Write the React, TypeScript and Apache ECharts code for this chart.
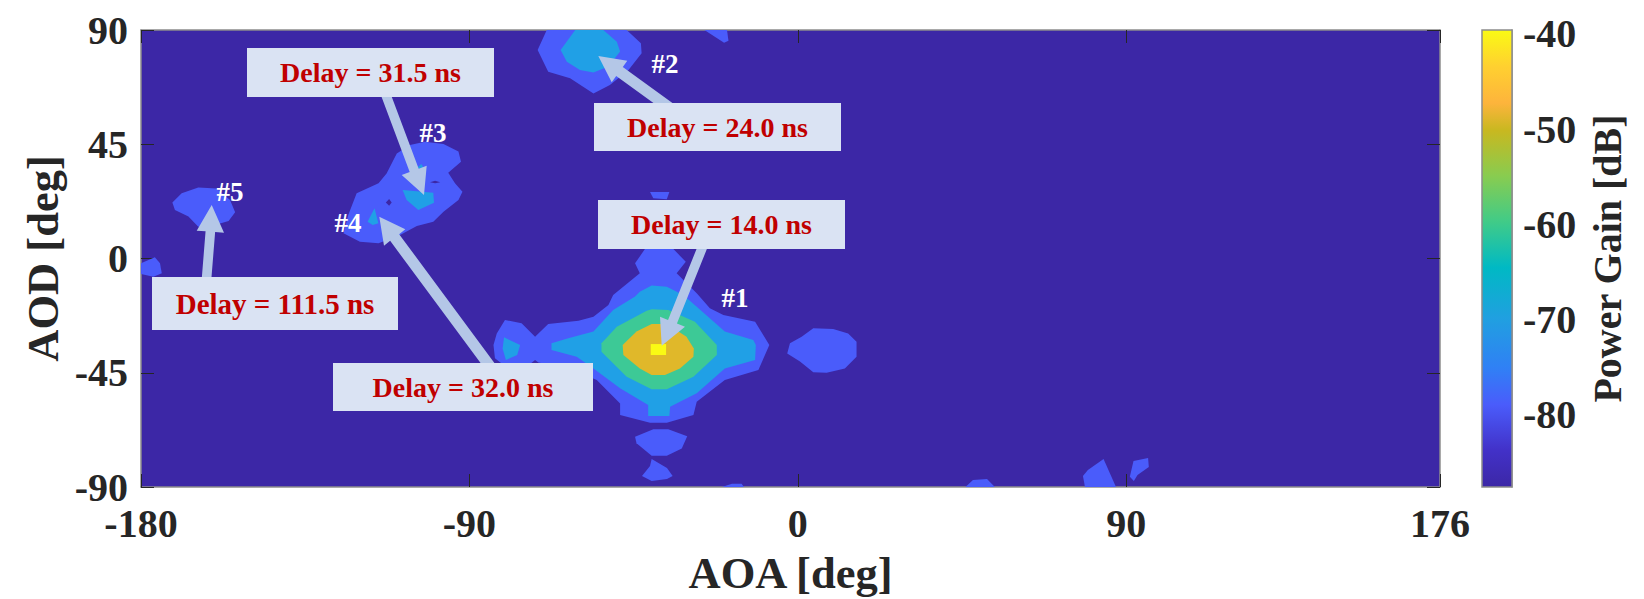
import React, { useEffect, useRef } from "react";
import * as echarts from "echarts";

// ---------- axis ranges / ticks ----------
const aoaRange = [-180, 176];
const aodRange = [-90, 90];
const aoaTicks = [-180, -90, 0, 90, 176];
const aodTicks = [-90, -45, 0, 45, 90];
const gainRange = [-87.6, -39.6];
const gainTicks = [-80, -70, -60, -50, -40];

// ---------- filled contours: [AOA deg, AOD deg] outlines, by level ----------
const bandBelow80 = [
  [[-41.9,3.7],[-34.1,3.7],[-30.7,-1.25],[-33.2,-5.84],[-27.7,-13.7],[-24.1,-19.6],[-20.4,-22.3],[-11.7,-24.9],[-7.8,-34.1],[-10.8,-43.9],[-20,-47.9],[-27.7,-56.4],[-28.6,-61.6],[-35.9,-64.7],[-40.5,-64.7],[-48.7,-61.6],[-48.7,-57.1],[-55.1,-47.9],[-62.4,-43.3],[-71.1,-41],[-72,-40],[-74.3,-42.6],[-78.9,-43.9],[-83,-39.3],[-83.4,-34.1],[-82.5,-29.5],[-80.25,-24.2],[-75.7,-25.5],[-72,-30.8],[-68.4,-25.8],[-60.1,-24.5],[-56,-22.9],[-51.9,-18.3],[-50.6,-14.4],[-43.3,-5.84],[-44.6,-1.9]],
  [[-40.5,26.2],[-35.2,26.2],[-35.9,23.3],[-39.6,23.7]],
  [[4.25,-27.5],[9.7,-27.8],[13.8,-29.5],[16.1,-32.8],[16.1,-38.7],[12.9,-43.3],[7.9,-45],[4.25,-44.8],[0.6,-40.6],[-2.9,-37.4],[-2.15,-33.4],[1.05,-30.8]],
  [[-44.6,-70.2],[-39.6,-67.3],[-35.5,-67.3],[-30.3,-70],[-31.8,-74.8],[-35.9,-77.7],[-40.05,-77.7],[-44.2,-72.8]],
  [[-40.05,-79],[-35.85,-82.5],[-34.3,-85.7],[-35.85,-86.8],[-40.05,-87.6],[-42.7,-85.7],[-40.5,-81.7]],
  [[-20.8,-90],[-18.05,-88.7],[-15.4,-88.7],[-14.75,-90]],
  [[45.95,-90],[48,-87.2],[51.85,-86.8],[54,-90]],
  [[78.15,-85.7],[79.5,-83.3],[83.8,-79],[87.2,-90],[78.7,-90]],
  [[92,-79.75],[96,-78.6],[96.2,-82.1],[93.1,-85.3],[92.1,-87.6],[91,-86]],
  [[-171.4,22.1],[-168.85,25.7],[-164.3,28],[-159.3,27.6],[-155.6,23],[-154.2,18.2],[-156,14.8],[-158.8,13.6],[-164.3,12.5],[-167,16.5],[-170.7,19.1]],
  [[-180,-1.9],[-176.2,0.45],[-174.8,-1.9],[-174.3,-5.85],[-176.6,-7.2],[-180,-6.1]],
  [[-109.9,41.4],[-106.3,44.7],[-102.2,46],[-97.1,45.1],[-93,42.1],[-92.3,38.1],[-95.8,33.8],[-93.95,29.6],[-91.9,26.3],[-93,23],[-97.1,18.4],[-99.9,14.5],[-104.4,12.8],[-109,9.25],[-114.9,6],[-120,6.6],[-124.5,9.9],[-123.2,17.1],[-120.9,25.7],[-114.9,29.6],[-112.7,33.5]],
  [[-68.8,90],[-46.9,90],[-43,84.75],[-42.8,80.8],[-46.4,74.25],[-51.5,68.3],[-56,65],[-62.4,71],[-68.4,73.6],[-71.3,82.1]],
  [[-25.6,90],[-19.4,90],[-19,85.8],[-20.2,85]],
];
const holes = [
  [[-112,23.4],[-111.3,22.1],[-112,20.8],[-112.9,22.1]],
  [[-100.8,30],[-99.4,30.65],[-98,30],[-99.4,29.6]],
];
const bandBelow70 = [
  [[-40.05,-10.6],[-35.9,-11.1],[-31.4,-14.4],[-27.7,-19],[-20,-28.8],[-12.2,-32.1],[-11.5,-34.1],[-11.7,-40],[-20,-43.3],[-27.7,-53.1],[-35,-58.4],[-35.2,-62],[-41,-62],[-41,-57.7],[-48.7,-51.1],[-56,-43.3],[-60.6,-38.7],[-67.5,-36],[-67.5,-33.4],[-62.9,-31.4],[-56,-28.8],[-50.6,-20.3],[-44.6,-15],[-43.3,-13.1]],
  [[-80.5,-31.05],[-76.1,-34.1],[-76.9,-38],[-80,-40],[-80.9,-35.4]],
  [[-108.3,27],[-99.9,25.9],[-99.7,22],[-104,19.1],[-107.2,23]],
  [[-116,19.75],[-114.95,13.85],[-116.5,13.2],[-117.9,14.5]],
  [[-104.4,35.5],[-103.2,37.2],[-102.4,35.5]],
  [[-61,90],[-53.3,90],[-49.6,85.4],[-48.7,81.5],[-51.9,75.6],[-56,73.3],[-59.7,74.2],[-63.3,77.5],[-65,82.1]],
];
const bandBelow60 = [
  [[-40.05,-20],[-35.5,-20.3],[-28.2,-24.9],[-22.2,-34.1],[-22.2,-38],[-28.6,-46.6],[-35.9,-51.5],[-40.05,-51.5],[-46.9,-46.6],[-53.8,-36.7],[-53.8,-33.4],[-49.6,-26.9],[-41.4,-20.6]],
];
const bandBelow50 = [
  [[-40.05,-25.8],[-35.9,-25.8],[-30.5,-30.8],[-28.5,-35.4],[-28.6,-38.7],[-32.3,-43.3],[-36.4,-45.9],[-40.05,-45.9],[-43.3,-43.3],[-47.8,-38],[-48,-34.1],[-44.2,-28.8]],
];
const bandPeak = [
  [[-40.3,-33.7],[-36.1,-33.7],[-36.1,-38],[-40.3,-38]],
];

// ---------- annotations ----------
const delayTexts = ["Delay = 14.0 ns", "Delay = 24.0 ns", "Delay = 31.5 ns", "Delay = 32.0 ns", "Delay = 111.5 ns"];
const pathTags = ["#1", "#2", "#3", "#4", "#5"];

// ---------- layout (pixels) ----------
const W = 1644, H = 599;
const G = { left: 141, top: 30, width: 1299, height: 457 };
const CB = { left: 1482, top: 30, width: 30, height: 457 };
const FONT = "'Liberation Serif', 'Times New Roman', serif";
const INK = "#262626";
const BOX_FRAME = "#8c8c8c";

const boxes = [
  [598, 200, 247, 49],
  [594, 103, 247, 48],
  [247, 48, 247, 49],
  [333, 363, 260, 48],
  [152, 277, 246, 53],
];
const boxFontSizes = [28, 28, 28, 28, 29];
const tagXY = [[735, 298], [665, 64], [433, 133], [348, 223], [230, 192]];
// tail, tip, head corner 1, head corner 2
const arrows = [
  [[701.7, 249], [661.7, 345.7], [660, 316.7], [685, 326.7]],
  [[663, 103], [598.3, 56], [627.3, 60.7], [611.7, 82.3]],
  [[386.7, 97], [424, 195], [401.7, 175], [426.7, 165.7]],
  [[487.5, 363], [379.3, 216.7], [384, 245.7], [405.3, 229.3]],
  [[206.7, 277], [211.7, 205], [196.7, 230.7], [224, 232.7]],
];
const arrowHalfWidths = [4.8, 5.6, 4.8, 5.6, 4.8];

function arrowPoints(a: number[][], hw: number) {
  const [t, tip, c1, c2] = a;
  const mx = (c1[0] + c2[0]) / 2, my = (c1[1] + c2[1]) / 2;
  const dx = mx - t[0], dy = my - t[1];
  const len = Math.hypot(dx, dy);
  const nx = -dy / len * hw, ny = dx / len * hw;
  // the tail runs on under its label box
  const tx = t[0] - dx / len * 14, ty = t[1] - dy / len * 14;
  const side = (c1[0] - mx) * nx + (c1[1] - my) * ny;
  const [s1, s2] = side > 0 ? [c1, c2] : [c2, c1];
  return [
    [tx + nx, ty + ny], [mx + nx, my + ny], s1, tip, s2,
    [mx - nx, my - ny], [tx - nx, ty - ny],
  ];
}

function contourSeries(polys: number[][][], color: string, z: number) {
  return {
    type: "custom",
    coordinateSystem: "cartesian2d",
    xAxisIndex: 0,
    yAxisIndex: 0,
    z,
    silent: true,
    data: polys.map((p) => [p[0][0], p[0][1]]),
    renderItem: (params: any, api: any) => ({
      type: "polygon",
      shape: { points: polys[params.dataIndex].map((p) => api.coord(p)) },
      style: { fill: color, stroke: null },
    }),
  };
}

export default function App() {
  const ref = useRef<HTMLDivElement>(null);
  useEffect(() => {
    document.body.style.margin = "0";
    const chart = echarts.init(ref.current!, undefined, { renderer: "svg" });
    const label = { color: INK, fontFamily: FONT, fontWeight: "bold", fontSize: 40 };
    const nameStyle = { color: INK, fontFamily: FONT, fontWeight: "bold", fontSize: 44.5 };
    const mirrored = {
      axisLine: { show: true, onZero: false, lineStyle: { color: BOX_FRAME, width: 1.5 } },
      splitLine: { show: false },
    };
    const graphics: any[] = [];
    arrows.forEach((a, i) => {
      graphics.push({
        type: "polygon", z: 50,
        shape: { points: arrowPoints(a, arrowHalfWidths[i]) },
        style: { fill: "#B4C7E7" },
      });
    });
    boxes.forEach((b, i) => {
      graphics.push({
        type: "rect", z: 51,
        shape: { x: b[0], y: b[1], width: b[2], height: b[3] },
        style: { fill: "#DAE3F3" },
      });
      graphics.push({
        type: "text", z: 52,
        x: b[0] + b[2] / 2, y: b[1] + b[3] / 2,
        style: {
          text: delayTexts[i], fill: "#C00000", font: `bold ${boxFontSizes[i]}px ${FONT}`,
          textAlign: "center", textVerticalAlign: "middle",
        },
      });
    });
    tagXY.forEach((p, i) => {
      graphics.push({
        type: "text", z: 52, x: p[0], y: p[1],
        style: {
          text: pathTags[i], fill: "#FFFFFF", font: `bold 27px ${FONT}`,
          textAlign: "center", textVerticalAlign: "middle",
        },
      });
    });

    chart.setOption({
      animation: false,
      backgroundColor: "#FFFFFF",
      grid: [
        { ...G, show: true, backgroundColor: "#3C27A6", borderWidth: 0, containLabel: false, outerBoundsMode: "none" },
        { ...CB, show: false, containLabel: false, outerBoundsMode: "none" },
      ],
      xAxis: [
        {
          type: "value", gridIndex: 0, position: "bottom", min: aoaRange[0], max: aoaRange[1],
          name: "AOA [deg]", nameLocation: "middle", nameGap: 63, nameTextStyle: nameStyle,
          ...mirrored,
          axisTick: { show: true, inside: true, length: 13, customValues: aoaTicks, lineStyle: { color: INK, width: 1 } },
          axisLabel: { ...label, margin: 16, customValues: aoaTicks },
        },
        {
          type: "value", gridIndex: 0, position: "top", min: aoaRange[0], max: aoaRange[1],
          ...mirrored,
          axisTick: { show: true, inside: true, length: 13, customValues: aoaTicks, lineStyle: { color: INK, width: 1 } },
          axisLabel: { show: false },
        },
        {
          type: "value", gridIndex: 1, min: 0, max: 1, show: false,
        },
      ],
      yAxis: [
        {
          type: "value", gridIndex: 0, position: "left", min: aodRange[0], max: aodRange[1],
          name: "AOD [deg]", nameLocation: "middle", nameMoveOverlap: false, nameGap: 76, nameRotate: 90, nameTextStyle: nameStyle,
          ...mirrored,
          axisTick: { show: true, inside: true, length: 13, customValues: aodTicks, lineStyle: { color: INK, width: 1 } },
          axisLabel: { ...label, margin: 13, customValues: aodTicks },
        },
        {
          type: "value", gridIndex: 0, position: "right", min: aodRange[0], max: aodRange[1],
          ...mirrored,
          axisTick: { show: true, inside: true, length: 13, customValues: aodTicks, lineStyle: { color: INK, width: 1 } },
          axisLabel: { show: false },
        },
        {
          type: "value", gridIndex: 1, position: "right", min: gainRange[0], max: gainRange[1],
          name: "Power Gain [dB]", nameLocation: "middle", nameGap: 75, nameRotate: 90,
          nameTextStyle: { ...nameStyle, fontSize: 40 },
          splitLine: { show: false },
          axisLine: { show: true, onZero: false, lineStyle: { color: BOX_FRAME, width: 1.5 } },
          axisTick: { show: true, inside: true, length: 5, customValues: gainTicks, lineStyle: { color: "#333333", width: 1 } },
          axisLabel: { ...label, margin: 11, customValues: gainTicks },
        },
      ],
      series: [
        contourSeries(bandBelow80, "#4A5CFB", 2),
        contourSeries(holes, "#3C27A6", 3),
        contourSeries(bandBelow70, "#20A0E6", 4),
        contourSeries(bandBelow60, "#3DC996", 5),
        contourSeries(bandBelow50, "#E0B82A", 6),
        contourSeries(bandPeak, "#FAFA14", 7),
        {
          type: "custom",
          coordinateSystem: "cartesian2d",
          xAxisIndex: 2,
          yAxisIndex: 2,
          silent: true,
          z: 1,
          data: [[0, gainRange[0]]],
          renderItem: (_p: any, api: any) => {
            const a = api.coord([0, gainRange[1]]);
            const b = api.coord([1, gainRange[0]]);
            return {
              type: "rect",
              shape: { x: a[0], y: a[1], width: b[0] - a[0], height: b[1] - a[1] },
              style: {
                stroke: BOX_FRAME,
                lineWidth: 1.5,
                fill: new echarts.graphic.LinearGradient(0, 0, 0, 1, [
                  { offset: 0, color: "#FAFA14" },
                  { offset: 0.08, color: "#FFD030" },
                  { offset: 0.16, color: "#FDB43C" },
                  { offset: 0.22, color: "#C8B820" },
                  { offset: 0.32, color: "#88CC50" },
                  { offset: 0.42, color: "#40CB88" },
                  { offset: 0.52, color: "#00B9C4" },
                  { offset: 0.63, color: "#20A0E0" },
                  { offset: 0.74, color: "#3080F5" },
                  { offset: 0.82, color: "#4A5CFB" },
                  { offset: 0.92, color: "#4231C8" },
                  { offset: 1, color: "#3C27A6" },
                ]),
              },
            };
          },
        },
      ],
      graphic: graphics,
    });
    return () => chart.dispose();
  }, []);
  return <div ref={ref} style={{ position: "fixed", left: 0, top: 0, width: W, height: H }} />;
}
